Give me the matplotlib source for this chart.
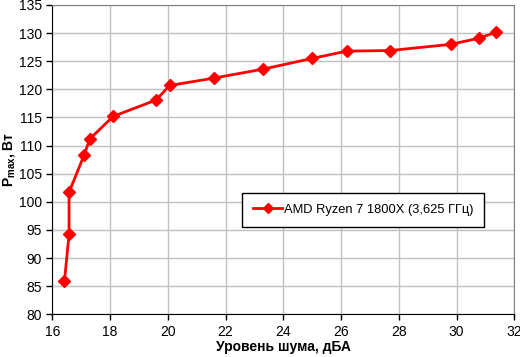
import matplotlib.pyplot as plt

plt.rcParams['font.family'] = ['Liberation Sans', 'DejaVu Sans']
plt.rcParams['mathtext.default'] = 'regular'

# Шум, дБА и мощность, Вт
noise = [16.42, 16.58, 16.58, 17.10, 17.30, 18.11, 19.59, 20.07, 21.60, 23.30,
         25.00, 26.20, 27.69, 29.79, 30.78, 31.38]
power = [85.9, 94.2, 101.7, 108.3, 111.2, 115.2, 118.1, 120.7, 122.0, 123.6,
         125.5, 126.8, 126.9, 128.0, 129.1, 130.2]
series_name = 'AMD Ryzen 7 1800X (3,625 ГГц)'
x_ticks = list(range(16, 33, 2))
y_ticks = list(range(80, 136, 5))

fig = plt.figure(figsize=(5.2, 3.57), dpi=100)
ax = fig.add_axes([0.1006, 0.1196, 0.8885, 0.8664])

ax.plot(noise, power, color='#ff0000', lw=2, marker='D', ms=6.5,
        markeredgecolor='#ff0000', label=series_name, zorder=3)

ax.set_xlim(16, 32)
ax.set_ylim(80, 135)
ax.set_xticks(x_ticks)
ax.set_yticks(y_ticks)
ax.grid(True, color='#c0c0c0', lw=1)
ax.set_axisbelow(True)
ax.tick_params(direction='out', length=4, width=1, labelsize=10, colors='black')
for s in ['top', 'right']:
    ax.spines[s].set_color('#808080')
for s in ['left', 'bottom']:
    ax.spines[s].set_color('black')

ax.set_xlabel('Уровень шума, дБА', fontsize=10, fontweight='bold', labelpad=1)
ax.set_ylabel(r'P$_{max}$, Вт', fontsize=10, fontweight='bold', labelpad=1)

leg = ax.legend(loc='upper left', bbox_to_anchor=(0.41, 0.393), fontsize=9.3,
                frameon=True, fancybox=False, edgecolor='black', framealpha=1,
                handlelength=2.3, borderpad=0.85, handletextpad=0.1,
                markerscale=0.8, borderaxespad=0)
leg.get_frame().set_linewidth(1)

plt.savefig('out.png', dpi=100)
